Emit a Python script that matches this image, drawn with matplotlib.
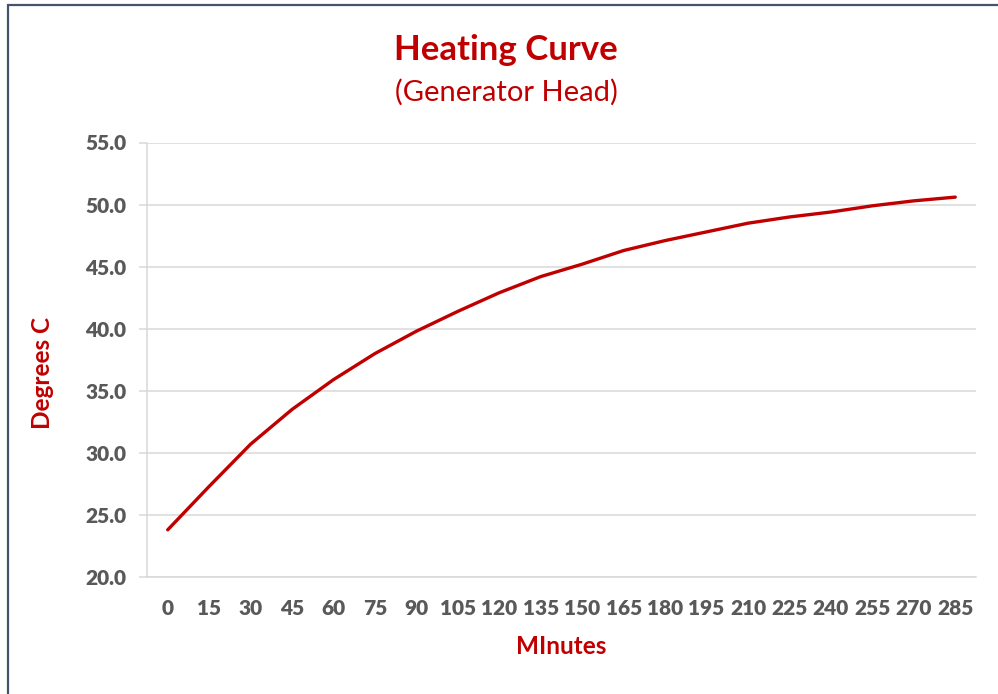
import matplotlib
matplotlib.use("Agg")
import matplotlib.pyplot as plt
from matplotlib.patches import Rectangle

minutes = [0, 15, 30, 45, 60, 75, 90, 105, 120, 135, 150, 165, 180, 195, 210, 225, 240, 255, 270, 285]
degrees = [23.8, 27.3, 30.7, 33.5, 35.9, 38.0, 39.8, 41.4, 42.9, 44.2, 45.2, 46.3, 47.1, 47.8, 48.5, 49.0, 49.4, 49.9, 50.3, 50.6]
yticks = [20, 25, 30, 35, 40, 45, 50, 55]

title = "Heating Curve"
subtitle = "(Generator Head)"
xlabel = "MInutes"
ylabel = "Degrees C"

RED = "#C00000"
GRAY_TXT = "#595959"
GRID = "#D9D9D9"
FONT = ["Lato", "DejaVu Sans"]

W, H = 998, 694
fig = plt.figure(figsize=(W / 100, H / 100), dpi=100)
fig.patch.set_facecolor("white")

# outer border
fig.patches.append(Rectangle((7.5 / W, -0.1), 1.2, 1 + 0.1 - 4.8 / H, transform=fig.transFigure,
                             fill=False, edgecolor="#44546A", linewidth=1.6, zorder=10))

left, right = 147 / W, 976 / W
bottom, top = 1 - 577 / H, 1 - 142.5 / H
ax = fig.add_axes([left, bottom, right - left, top - bottom])

ax.plot(minutes, degrees, color=RED, linewidth=2.4, solid_capstyle="round", zorder=3, clip_on=False)

ax.set_xlim(-7.5, 292.5)
ax.set_ylim(20, 55)
ax.set_yticks(yticks)
ax.set_yticklabels([f"{v:.1f}" for v in yticks])
ax.set_xticks(minutes)
ax.set_xticklabels([str(m) for m in minutes])

ax.grid(axis="y", color=GRID, linewidth=1.1)
ax.set_axisbelow(True)
for s in ["top", "right"]:
    ax.spines[s].set_visible(False)
ax.spines["left"].set_color(GRID)
ax.spines["left"].set_linewidth(1.1)
ax.spines["bottom"].set_color(GRID)
ax.spines["bottom"].set_linewidth(1.1)

ax.tick_params(axis="y", length=6, width=1.1, color=GRID, pad=9, labelcolor=GRAY_TXT)
ax.tick_params(axis="x", length=0, pad=16, labelcolor=GRAY_TXT)
for lab in ax.get_xticklabels() + ax.get_yticklabels():
    lab.set_fontfamily(FONT)
    lab.set_fontweight("heavy")
    lab.set_fontsize(15)

fig.text(506 / W, 1 - 50 / H, title, ha="center", va="center", color=RED,
         fontsize=25, fontweight="bold", family=FONT)
fig.text(506 / W, 1 - 92 / H, subtitle, ha="center", va="center", color=RED,
         fontsize=21, family=FONT)
fig.text(561 / W, 1 - 647 / H, xlabel, ha="center", va="center", color=RED,
         fontsize=17.5, fontweight="bold", family=FONT)
fig.text(42 / W, 1 - 373 / H, ylabel, ha="center", va="center", color=RED, rotation=90,
         fontsize=17.5, fontweight="bold", family=FONT)

fig.savefig("out.png", dpi=100)
